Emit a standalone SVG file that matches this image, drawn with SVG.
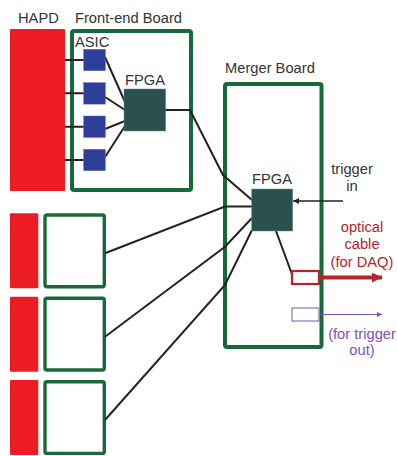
<svg xmlns="http://www.w3.org/2000/svg" width="397" height="456" viewBox="0 0 397 456">
<defs>
<style>
text{font-family:"Liberation Sans",Arial,sans-serif;font-size:14.7px;fill:#333}
.hapd{fill:#ed1c24}
.board{fill:#fff;stroke:#17693a;stroke-width:4}
.small{fill:#fff;stroke:#17693a;stroke-width:3.4}
.asic{fill:#2e3f9a;stroke:#5a6ab8;stroke-width:0.5}
.fpga{fill:#2c5050;stroke:#6a8a8a;stroke-width:0.5}
.wire{fill:none;stroke:#222;stroke-width:2}
.red{fill:#b5242a}
.pur{fill:#8050b8}
</style>
<marker id="ah" viewBox="0 0 10 10" refX="10" refY="5" markerWidth="8" markerHeight="6" markerUnits="userSpaceOnUse" orient="auto"><path d="M0,0L10,5L0,10z" fill="#222"/></marker>
<marker id="ahr" viewBox="0 0 10 10" refX="10" refY="5" markerWidth="13" markerHeight="10" markerUnits="userSpaceOnUse" orient="auto"><path d="M0,0L10,5L0,10z" fill="#b5242a"/></marker>
<marker id="ahp" viewBox="0 0 10 10" refX="10" refY="5" markerWidth="8" markerHeight="5" markerUnits="userSpaceOnUse" orient="auto"><path d="M0,0L10,5L0,10z" fill="#8050b8"/></marker>
</defs>
<g id="hapd">
<rect class="hapd" x="10" y="29" width="55" height="162" rx="1"/>
<rect class="hapd" x="10" y="213.3" width="28.3" height="75" rx="1"/>
<rect class="hapd" x="10" y="296.7" width="28.3" height="75" rx="1"/>
<rect class="hapd" x="10" y="380" width="28.3" height="75" rx="1"/>
<text x="18" y="23">HAPD</text>
</g>
<g id="frontend-board">
<rect class="board" x="72" y="31" width="119" height="159" rx="2"/>
<text x="75" y="23">Front-end Board</text>
</g>
<g id="frontend-boards-lower">
<rect class="small" x="45" y="215" width="59.3" height="71.7" rx="2"/>
<rect class="small" x="45" y="298.3" width="59.3" height="71.7" rx="2"/>
<rect class="small" x="45" y="381.7" width="59.3" height="71.7" rx="2"/>
</g>
<g id="merger-board">
<rect class="board" x="225" y="84" width="96.5" height="263" rx="2"/>
<text x="225" y="73">Merger Board</text>
</g>
<g id="connectors">
<path class="wire" d="M65,60H84M65,93.3H84M65,126.7H84M65,160H84"/>
<path class="wire" d="M105,57L125,102M105,97L125,110M105,129L125,121M105,157L125,126"/>
<path class="wire" d="M165,110H190L223,175L252,200"/>
<path class="wire" d="M105,253.3L225,206.5H252"/>
<path class="wire" d="M105,336.7L225,246.7L252,218"/>
<path class="wire" d="M105,420L225,285L252,230"/>
<path class="wire" d="M276,231L293,277"/>
<path d="M343,201H293" fill="none" stroke="#222" stroke-width="1.5" marker-end="url(#ah)"/>
<path d="M319,277.5H382" fill="none" stroke="#b5242a" stroke-width="4" marker-end="url(#ahr)"/>
<path d="M319,314.5H382" fill="none" stroke="#8050b8" stroke-width="1.2" marker-end="url(#ahp)"/>
</g>
<g id="asics">
<rect class="asic" x="83.7" y="49.3" width="21.6" height="21.4"/>
<rect class="asic" x="83.7" y="82.7" width="21.6" height="21.4"/>
<rect class="asic" x="83.7" y="116" width="21.6" height="21.4"/>
<rect class="asic" x="83.7" y="149.3" width="21.6" height="21.4"/>
<text x="75" y="47">ASIC</text>
</g>
<g id="fe-fpga">
<rect class="fpga" x="124" y="89" width="41.7" height="42"/>
<text x="145" y="85" text-anchor="middle">FPGA</text>
</g>
<g id="merger-fpga">
<rect class="fpga" x="251.7" y="189" width="41" height="42"/>
<text x="272" y="184" text-anchor="middle">FPGA</text>
</g>
<g id="trigger-in">
<text x="352" y="174" text-anchor="middle">trigger</text>
<text x="352" y="191" text-anchor="middle">in</text>
</g>
<g id="daq-port">
<rect x="292" y="271" width="27" height="13" fill="#fff" stroke="#b5242a" stroke-width="2.2"/>
<text class="red" x="362" y="232" text-anchor="middle">optical</text>
<text class="red" x="362" y="249" text-anchor="middle">cable</text>
<text class="red" x="362" y="267" text-anchor="middle">(for DAQ)</text>
</g>
<g id="trigger-out-port">
<rect x="292" y="308" width="27" height="13" fill="#fff" stroke="#9070c0" stroke-width="1.2"/>
<text class="pur" x="362" y="339" text-anchor="middle">(for trigger</text>
<text class="pur" x="362" y="355" text-anchor="middle">out)</text>
</g>
</svg>
